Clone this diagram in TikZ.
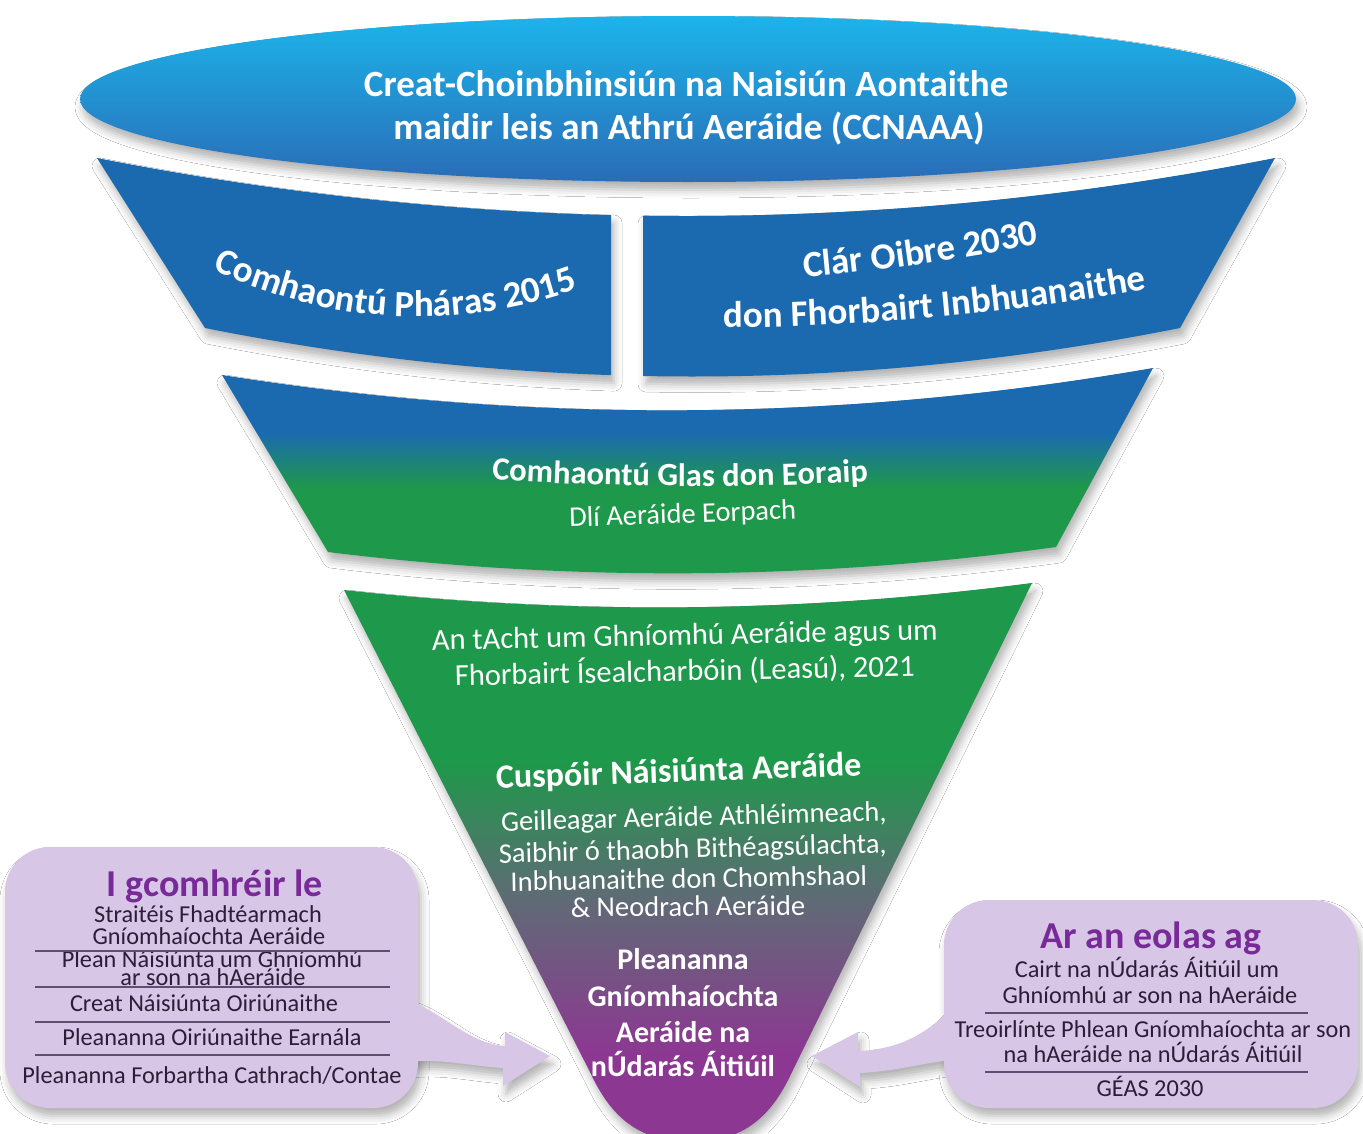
\documentclass[tikz,border=0pt]{standalone}
\usepackage{fontspec}
\setmainfont{Carlito}
\usetikzlibrary{shadows.blur,decorations.text}

\definecolor{bandblue}{RGB}{27,106,176}
\definecolor{ellTop}{RGB}{28,180,234}
\definecolor{ellMid}{RGB}{42,150,214}
\definecolor{ellBot}{RGB}{42,108,182}
\definecolor{fgreen}{RGB}{30,152,74}
\definecolor{fgray}{RGB}{96,106,118}
\definecolor{fpurple}{RGB}{140,56,146}
\definecolor{callfill}{RGB}{215,198,230}
\definecolor{ctitlecol}{RGB}{120,42,152}
\definecolor{ctextcol}{RGB}{44,30,56}
\definecolor{crulecol}{RGB}{95,78,115}

\pgfdeclareverticalshading{bandtwoshade}{100bp}{color(0bp)=(fgreen); color(47bp)=(fgreen); color(60bp)=(bandblue); color(100bp)=(bandblue)}
\pgfdeclareverticalshading{funnelshade}{100bp}{color(0bp)=(fpurple); color(33bp)=(fpurple); color(46.5bp)=(fgray); color(59bp)=(fgreen); color(100bp)=(fgreen)}

\newcommand\bandfont{\fontsize{37}{40}\selectfont\bfseries}
\newcommand\glasfont{\fontsize{32.5}{36}\selectfont\bfseries}

\begin{document}
\begin{tikzpicture}[x=1pt,y=-1pt,
  dropsh/.style={blur shadow={shadow xshift=3pt, shadow yshift=-8pt, shadow blur radius=8pt, shadow opacity=30}},
  titletxt/.style={font=\fontsize{37}{40}\selectfont\bfseries, text=white, anchor=base, inner sep=0pt},
  whitereg/.style={font=\fontsize{#1}{#1}\selectfont, text=white, anchor=base, inner sep=0pt},
  whitebold/.style={font=\fontsize{#1}{#1}\selectfont\bfseries, text=white, anchor=base, inner sep=0pt},
  ctitle/.style={font=\fontsize{38}{40}\selectfont\bfseries, text=ctitlecol, anchor=base, inner sep=0pt},
  citem/.style={font=\fontsize{24.3}{25}\selectfont, text=ctextcol, anchor=base, inner sep=0pt},
  crule/.style={draw=crulecol, line width=1.6pt},
  callbox/.style={fill=callfill, rounded corners=45pt}
]
\useasboundingbox (0,0) rectangle (1363,1133);
\fill[white] (0,0) rectangle (1363,1133);

% ---------- funnel (bottom) ----------
\shade[dropsh, shading=funnelshade] (344,590) .. controls (573.3,615.3) and (802.7,613) .. (1032,583)
  -- (792,1072) .. controls (770,1120) and (740,1142) .. (691,1142)
  .. controls (642,1142) and (612,1120) .. (590,1072) -- cycle;

% ---------- band 2 ----------
\shade[dropsh, shading=bandtwoshade] (222,375) .. controls (532.7,424.3) and (843,422) .. (1153,368)
  -- (1056,547) .. controls (813.3,580.3) and (570.7,582) .. (328,552) -- cycle;

% ---------- band 1 (two pieces) ----------
\fill[dropsh, bandblue] (97,158) .. controls (268.3,191.7) and (439.7,210.8) .. (611,215.1)
  -- (611,375.1) .. controls (475.7,370.6) and (340.3,354.9) .. (205,328) -- cycle;
\fill[dropsh, bandblue] (643,215.7) .. controls (853.7,218.7) and (1064.3,199.5) .. (1275,158)
  -- (1180,328) .. controls (1001,363.6) and (822,379.6) .. (643,376) -- cycle;

% ---------- top ellipse ----------
\shade[dropsh, top color=ellTop, middle color=ellMid, bottom color=ellBot] (688,99) ellipse [x radius=608, y radius=83];
\node[titletxt] (ell1) at (686,96) {Creat-Choinbhinsiún na Naisiún Aontaithe};
\node[titletxt] (ell2) at (689,139) {maidir leis an Athrú Aeráide (CCNAAA)};

% ---------- band 1 texts (curved) ----------
\path[decorate, decoration={text along path, text align=center, text color=white,
  text={|\bandfont|Comhaontú Pháras 2015}}]
  (198,262) .. controls (330,330) and (470,332) .. (594,283);
\path[decorate, decoration={text along path, text align=center, text color=white,
  text={|\bandfont|Clár Oibre 2030}}]
  (785,279) .. controls (876,272) and (967,259) .. (1058,240);
\path[decorate, decoration={text along path, text align=center, text color=white,
  text={|\bandfont|don Fhorbairt Inbhuanaithe}}]
  (703,328) .. controls (858,328) and (1012,314) .. (1167,286);

% ---------- band 2 texts ----------
\path[decorate, decoration={text along path, text align=center, text color=white,
  text={|\glasfont|Comhaontú Glas don Eoraip}}]
  (465,478) .. controls (607,488) and (750,489) .. (895,480);
\node[whitereg=28.5, rotate=2] (dli) at (683,523) {Dlí Aeráide Eorpach};

% ---------- funnel texts ----------
\node[whitereg=30.5, rotate=1.2] (acht1) at (685,645) {An tAcht um Ghníomhú Aeráide agus um};
\node[whitereg=30.5, rotate=1.2] (acht2) at (685,681) {Fhorbairt Ísealcharbóin (Leasú), 2021};
\node[whitebold=34, rotate=2] (cusp) at (679,782) {Cuspóir Náisiúnta Aeráide};
\node[whitereg=28.5, rotate=1.5] (geil) at (694,826) {Geilleagar Aeráide Athléimneach,};
\node[whitereg=28.5, rotate=1.5] (saib) at (693,858) {Saibhir ó thaobh Bithéagsúlachta,};
\node[whitereg=28.5, rotate=1] (inbh) at (689,888) {Inbhuanaithe don Chomhshaol};
\node[whitereg=28.5, rotate=0.5] (neod) at (688,916) {\& Neodrach Aeráide};
\node[whitebold=30] (plea1) at (683,969) {Pleananna};
\node[whitebold=30] (plea2) at (683,1006) {Gníomhaíochta};
\node[whitebold=30] (plea3) at (683,1042) {Aeráide na};
\node[whitebold=30] (plea4) at (683,1076) {nÚdarás Áitiúil};

% ---------- callouts: shadows ----------
\path[dropsh, rounded corners=45pt] (5,847) rectangle (418,1108);
\path[dropsh] (408,1001) .. controls (440,1010) and (468,1044) .. (505,1046) -- (505,1032) -- (550,1056)
  -- (503,1086) -- (503,1068) .. controls (470,1066) and (440,1058) .. (408,1062) -- cycle;
\path[dropsh, rounded corners=45pt] (944,900) rectangle (1358,1108);
\path[dropsh] (955,1003) .. controls (930,1035) and (895,1050) .. (858,1051) -- (858,1032) -- (812,1056)
  -- (860,1087) -- (860,1073) .. controls (900,1071) and (930,1061) .. (955,1060) -- cycle;

% ---------- callouts: fills ----------
\fill[callfill] (408,1001) .. controls (440,1010) and (468,1044) .. (505,1046) -- (505,1032) -- (550,1056)
  -- (503,1086) -- (503,1068) .. controls (470,1066) and (440,1058) .. (408,1062) -- cycle;
\fill[callfill] (955,1003) .. controls (930,1035) and (895,1050) .. (858,1051) -- (858,1032) -- (812,1056)
  -- (860,1087) -- (860,1073) .. controls (900,1071) and (930,1061) .. (955,1060) -- cycle;
\path[callbox] (5,847) rectangle (418,1108);
\path[callbox] (944,900) rectangle (1358,1108);

% ---------- left callout text ----------
\node[ctitle] (lt) at (215,896) {I gcomhréir le};
\node[citem] (l1a) at (208,922) {Straitéis Fhadtéarmach};
\node[citem] (l1b) at (209,944) {Gníomhaíochta Aeráide};
\node[citem] (l2a) at (212,967) {Plean Náisiúnta um Ghníomhú};
\node[citem] (l2b) at (213,985) {ar son na hAeráide};
\node[citem] (l3) at (204,1011) {Creat Náisiúnta Oiriúnaithe};
\node[citem] (l4) at (212,1045) {Pleananna Oiriúnaithe Earnála};
\node[citem] (l5) at (212,1083) {Pleananna Forbartha Cathrach/Contae};
\draw[crule] (35,951) -- (390,951);
\draw[crule] (35,987) -- (390,987);
\draw[crule] (35,1022) -- (390,1022);
\draw[crule] (35,1055) -- (390,1055);

% ---------- right callout text ----------
\node[ctitle] (rt) at (1151,948) {Ar an eolas ag};
\node[citem] (r1a) at (1147,977) {Cairt na nÚdarás Áitiúil um};
\node[citem] (r1b) at (1150,1003) {Ghníomhú ar son na hAeráide};
\node[citem] (r2a) at (1153,1037) {Treoirlínte Phlean Gníomhaíochta ar son};
\node[citem] (r2b) at (1153,1062) {na hAeráide na nÚdarás Áitiúil};
\node[citem] (r3) at (1150,1096) {GÉAS 2030};
\draw[crule] (985,1013) -- (1308,1013);
\draw[crule] (985,1072) -- (1308,1072);
\end{tikzpicture}
\end{document}
